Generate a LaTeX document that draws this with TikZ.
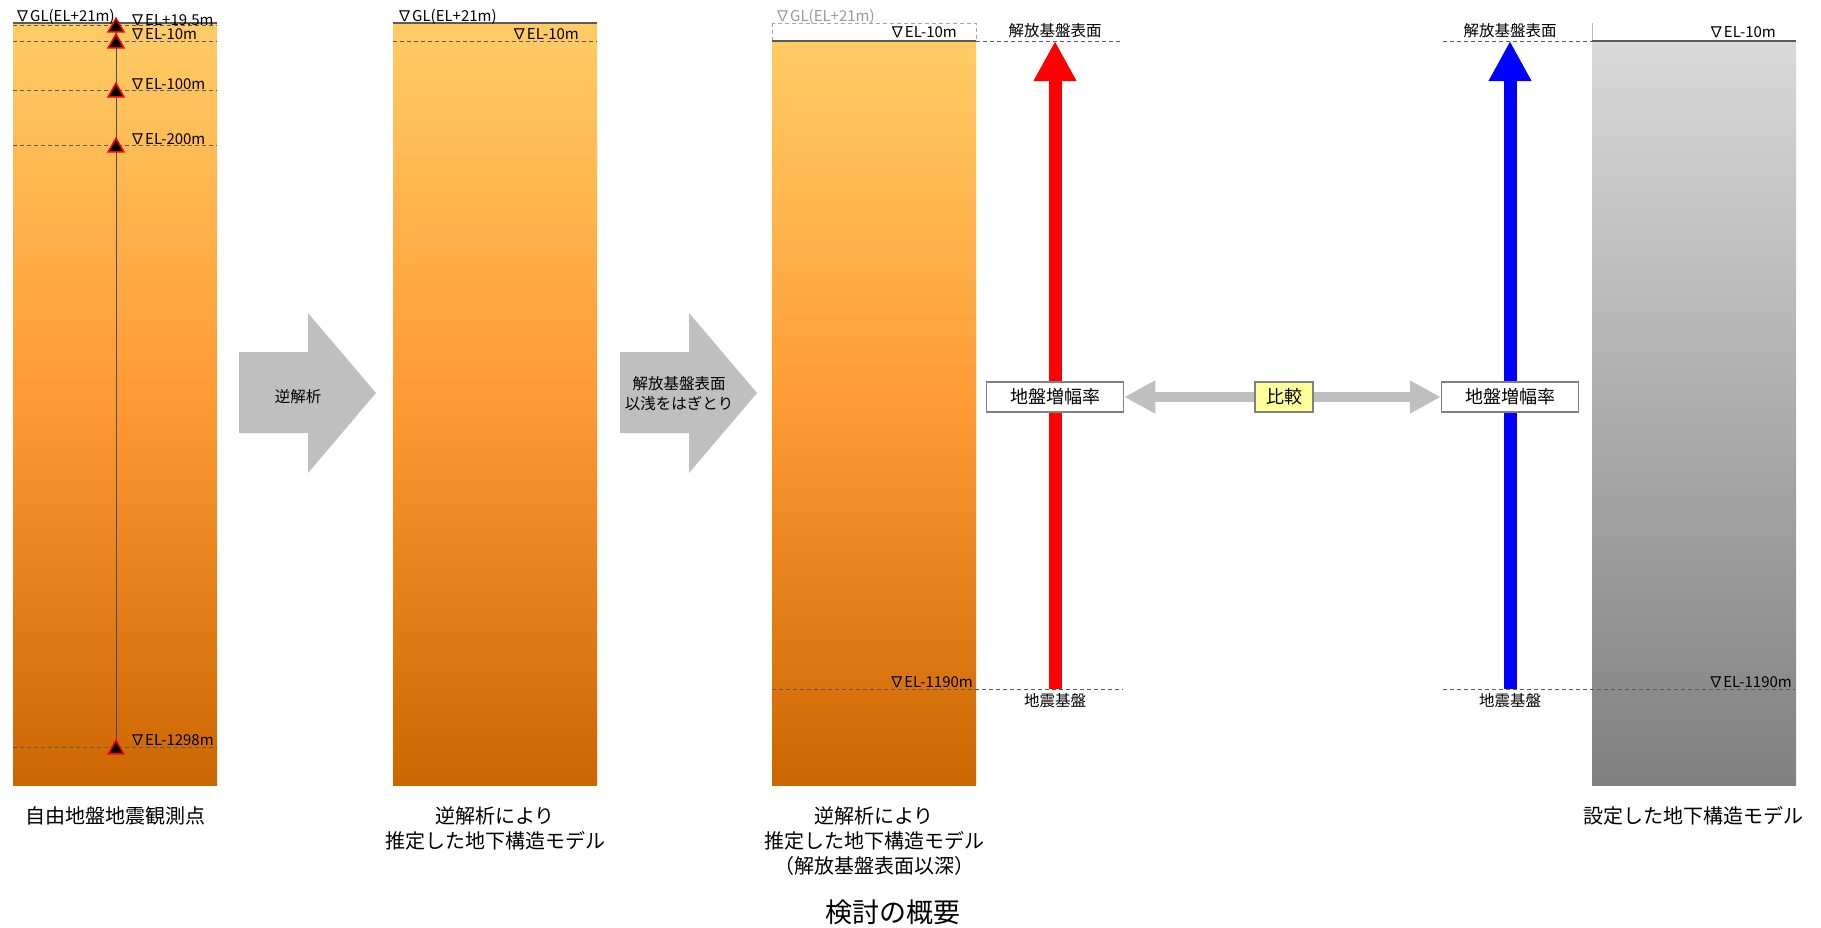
\documentclass[tikz,border=0pt]{standalone}
\usepackage{fontspec}
\setmainfont{Noto Sans CJK JP}
\usepackage{tikz}
\usetikzlibrary{positioning}
\usetikzlibrary{shapes.geometric}
\usetikzlibrary{arrows.meta}
\usepackage{xcolor}

\definecolor{orTop}{RGB}{255,204,102}
\definecolor{orMid}{RGB}{255,153,51}
\definecolor{orBot}{RGB}{204,102,0}
\definecolor{gyTop}{RGB}{217,217,217}
\definecolor{gyBot}{RGB}{128,128,128}
\definecolor{arrGray}{RGB}{191,191,191}
\definecolor{lineGray}{RGB}{89,89,89}
\definecolor{cmpYellow}{RGB}{255,255,153}

\begin{document}
\begin{tikzpicture}[x=1pt, y=-1pt,
    col/.style={rectangle, anchor=north west, minimum width=204pt, inner sep=0, outer sep=0},
    orcol/.style={col, top color=orTop, bottom color=orBot, middle color=orMid},
    topline/.style={lineGray, line width=1.2pt},
    lvline/.style={lineGray, line width=1pt, dash pattern=on 4pt off 3pt},
    lvtxt/.style={font=\fontsize{15}{16}\selectfont, inner sep=0},
    jptxt/.style={font=\fontsize{15.5}{20}\selectfont, inner sep=0, align=center},
    captxt/.style={font=\fontsize{20}{25}\selectfont, inner sep=0, align=center, anchor=north},
    obs/.style={regular polygon, regular polygon sides=3, minimum size=18pt, inner sep=0, fill=black, draw=red, line width=1.5pt},
    ampbox/.style={rectangle, draw=black!50, line width=1.5pt, fill=white, minimum width=137pt, minimum height=30pt, inner sep=0, font=\fontsize{18}{18}\selectfont},
    uparrow/.style={line width=13pt, -{Triangle[length=40pt,width=40pt]}},
    cmparrow/.style={arrGray, line width=10pt, {Triangle[length=31pt,width=31pt]}-{Triangle[length=31pt,width=31pt]}}
]
    \useasboundingbox (0,0) rectangle (1821,927);

    % Free-field observation point
    \node[orcol, minimum height=762pt] (col1) at (13,23) {};
    \draw[topline] (col1.north west) -- (col1.north east);
    \draw[lvline] (13,25) -- (217,25);
    \draw[lvline] (13,41) -- (217,41);
    \draw[lvline] (13,90) -- (217,90);
    \draw[lvline] (13,145) -- (217,145);
    \draw[lvline] (13,747) -- (217,747);
    \coordinate (lv1) at (116,25);
    \coordinate (lv5) at (116,747);
    \draw[black!70, line width=1pt] (lv1) -- (lv5);
    \node[obs] (obs1) at (116,27.3) {};
    \node[obs] (obs2) at (116,43.3) {};
    \node[obs] (obs3) at (116,92.3) {};
    \node[obs] (obs4) at (116,147.3) {};
    \node[obs] (obs5) at (116,749.3) {};
    \node[lvtxt, anchor=base west] (gl1) at (15,21) {∇GL(EL+21m)};
    \node[lvtxt, anchor=base west] (el1a) at (130,25) {∇EL+19.5m};
    \node[lvtxt, anchor=base west] (el1b) at (130,39) {∇EL-10m};
    \node[lvtxt, anchor=base west] (el1c) at (130,89) {∇EL-100m};
    \node[lvtxt, anchor=base west] (el1d) at (130,144) {∇EL-200m};
    \node[lvtxt, anchor=base west] (el1e) at (130,745) {∇EL-1298m};
    \node[captxt] (cap1) at (115,806) {自由地盤地震観測点};

    % Inverse analysis
    \fill[arrGray] (239,352) -- (308,352) -- (308,313) -- (376,393) -- (308,473) -- (308,433) -- (239,433) -- cycle;
    \node[jptxt] (inv) at (298,397) {逆解析};

    % Estimated model
    \node[orcol, minimum height=762pt] (col2) at (393,23) {};
    \draw[topline] (col2.north west) -- (col2.north east);
    \draw[lvline] (393,41) -- (597,41);
    \node[lvtxt, anchor=base west] (gl2) at (397,21) {∇GL(EL+21m)};
    \node[lvtxt, anchor=base east] (el2) at (579,39) {∇EL-10m};
    \node[captxt] (cap2) at (495,806) {逆解析により\\推定した地下構造モデル};

    % Strip off shallow layers
    \fill[arrGray] (620,352) -- (689,352) -- (689,313) -- (757,393) -- (689,473) -- (689,433) -- (620,433) -- cycle;
    \node[jptxt] (strip) at (679,394) {解放基盤表面\\以浅をはぎとり};

    % Estimated model below bedrock surface
    \draw[black!35, line width=1pt, dash pattern=on 4pt off 3pt] (772,23) rectangle (976,41);
    \node[orcol, minimum height=744pt] (col3) at (772,41) {};
    \draw[topline] (col3.north west) -- (col3.north east);
    \draw[lvline] (976,41) -- (1123,41);
    \draw[lvline] (772,689) -- (1123,689);
    \node[lvtxt, anchor=base west, black!40] (gl3) at (775,21) {∇GL(EL+21m)};
    \node[lvtxt, anchor=base east] (el3a) at (957,37.5) {∇EL-10m};
    \node[lvtxt, anchor=base east] (el3b) at (973,687) {∇EL-1190m};
    \node[captxt] (cap3) at (874,806) {逆解析により\\推定した地下構造モデル\\（解放基盤表面以深）};

    % Set model
    \draw[black!25, line width=1pt] (1592,23) -- (1592,41);
    \node[col, top color=gyTop, bottom color=gyBot, minimum height=744pt] (col4) at (1592,41) {};
    \draw[topline] (col4.north west) -- (col4.north east);
    \draw[lvline] (1443,41) -- (1592,41);
    \draw[lvline] (1443,689) -- (1795,689);
    \node[lvtxt, anchor=base east] (el4a) at (1776,37.5) {∇EL-10m};
    \node[lvtxt, anchor=base east] (el4b) at (1792,687) {∇EL-1190m};
    \node[captxt] (cap4) at (1693,806) {設定した地下構造モデル};

    % Amplification
    \coordinate (rbot) at (1055,689);
    \coordinate (rtop) at (1055,41);
    \coordinate (bbot) at (1510,689);
    \coordinate (btop) at (1510,41);
    \draw[uparrow, red] (rbot) -- (rtop);
    \draw[uparrow, blue] (bbot) -- (btop);
    \node[jptxt] (surf1) at (1055,31) {解放基盤表面};
    \node[jptxt] (surf2) at (1510,31) {解放基盤表面};
    \node[jptxt] (base1) at (1055,701) {地震基盤};
    \node[jptxt] (base2) at (1510,701) {地震基盤};
    \node[ampbox] (amp1) at (1055,397) {地盤増幅率};
    \node[ampbox] (amp2) at (1510,397) {地盤増幅率};

    % Comparison
    \draw[cmparrow] (amp1.east) -- (amp2.west);
    \node[ampbox, fill=cmpYellow, minimum width=58pt] (cmp) at (1284,397) {比較};

    % Title
    \node[font=\fontsize{27}{30}\selectfont, inner sep=0] (title) at (893,912) {検討の概要};
\end{tikzpicture}
\end{document}
